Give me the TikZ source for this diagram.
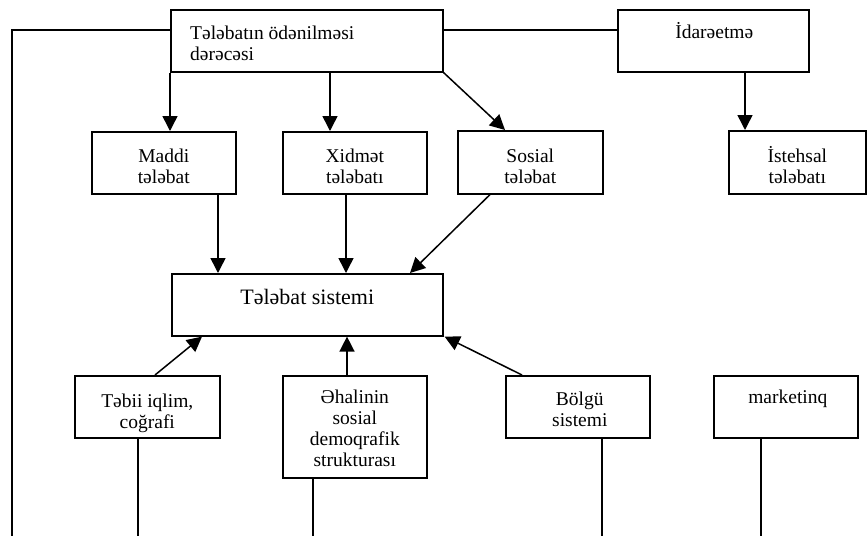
\documentclass[tikz,border=0pt]{standalone}
\usepackage{fontspec}
\setmainfont{Liberation Serif}
\usetikzlibrary{arrows.meta,calc}
\newcommand{\ctext}[1]{\begin{tabular}[t]{@{}c@{}}#1\end{tabular}}
\newcommand{\ltext}[1]{\begin{tabular}[t]{@{}l@{}}#1\end{tabular}}
\begin{document}
\begin{tikzpicture}[x=1pt,y=-1pt,
  box/.style={draw,line width=1.6pt,rectangle,inner sep=0pt,anchor=north west},
  lbl/.style={anchor=base,inner sep=0pt,font=\fontsize{19.5}{21}\selectfont},
  biglbl/.style={anchor=base,inner sep=0pt,font=\fontsize{22}{24}\selectfont},
  arr/.style={line width=1.5pt,-{Triangle[length=15pt,width=15pt]}},
  ln/.style={line width=1.6pt},
  thinln/.style={line width=1.1pt}]
\useasboundingbox (0,0) rectangle (868,536);
\coordinate (bot) at (0,536);
% boxes
\node[box,minimum width=272pt,minimum height=62pt] (top) at (170,9) {};
\node[box,minimum width=191pt,minimum height=62pt] (idare) at (617,9) {};
\node[box,minimum width=144pt,minimum height=62pt] (maddi) at (91,131) {};
\node[box,minimum width=144pt,minimum height=62pt] (xidmet) at (282,131) {};
\node[box,minimum width=145pt,minimum height=63pt] (sosial) at (457,130) {};
\node[box,minimum width=137pt,minimum height=63pt] (istehsal) at (728,130) {};
\node[box,minimum width=271pt,minimum height=62pt] (tsys) at (171,273) {};
\node[box,minimum width=145pt,minimum height=62pt] (tebii) at (74,375) {};
\node[box,minimum width=144pt,minimum height=102pt] (ehali) at (282,375) {};
\node[box,minimum width=144pt,minimum height=62pt] (bolgu) at (505,375) {};
\node[box,minimum width=144pt,minimum height=62pt] (market) at (713,375) {};
% texts
\node[lbl,anchor=base west] (top-t) at ($(top.north west)+(20,30)$) {\ltext{Tələbatın ödənilməsi\\dərəcəsi}};
\node[lbl] (idare-t) at ($(idare.north)+(1,29)$) {\ctext{İdarəetmə}};
\node[lbl] (maddi-t) at ($(maddi.north)+(0,31)$) {\ctext{Maddi\\tələbat}};
\node[lbl] (xidmet-t) at ($(xidmet.north)+(0,31)$) {\ctext{Xidmət\\tələbatı}};
\node[lbl] (sosial-t) at ($(sosial.north)+(0,32)$) {\ctext{Sosial\\tələbat}};
\node[lbl] (istehsal-t) at ($(istehsal.north)+(0,32)$) {\ctext{İstehsal\\tələbatı}};
\node[biglbl] (tsys-t) at ($(tsys.north)+(0,31)$) {Tələbat sistemi};
\node[lbl] (tebii-t) at ($(tebii.north)+(0,32)$) {\ctext{Təbii iqlim,\\coğrafi}};
\node[lbl] (ehali-t) at ($(ehali.north)+(0,28)$) {\ctext{Əhalinin\\sosial\\demoqrafik\\strukturası}};
\node[lbl] (bolgu-t) at ($(bolgu.north)+(2,30)$) {\ctext{Bölgü\\sistemi}};
\node[lbl] (market-t) at ($(market.north)+(2,28)$) {\ctext{marketinq}};
% left frame line and top connector
\coordinate (lc) at (12,30);
\coordinate (lb) at (12,536);
\draw[ln] ($(top.north west)+(0,21)$) -- (lc) -- (lb);
\draw[thinln] ($(top.north east)+(0,21)$) coordinate (p) -- (p -| idare.west);
% arrows from top
\draw[arr] (top.south west) -- (top.south west |- maddi.north);
\draw[arr] ($(top.south west)+(160,0)$) coordinate (a) -- (a |- xidmet.north);
\draw[arr] (top.south east) -- ($(sosial.north west)+(48,0)$);
\draw[arr] ($(idare.south west)+(128,0)$) coordinate (b) -- (b |- istehsal.north);
% arrows into system
\draw[arr] ($(maddi.south west)+(127,0)$) coordinate (c) -- (c |- tsys.north);
\draw[arr] ($(xidmet.south west)+(64,0)$) coordinate (d) -- (d |- tsys.north);
\draw[arr] ($(sosial.south west)+(33,0)$) -- ($(tsys.north west)+(239,0)$);
\draw[arr] ($(tebii.north west)+(81,0)$) -- ($(tsys.south west)+(31,0)$);
\draw[arr] ($(ehali.north west)+(65,0)$) coordinate (e) -- (e |- tsys.south);
\draw[arr] ($(bolgu.north west)+(17,0)$) -- ($(tsys.south east)+(1,0)$);
% lines down
\draw[ln] ($(tebii.south west)+(64,0)$) coordinate (f) -- (f |- bot);
\draw[ln] ($(ehali.south west)+(31,0)$) coordinate (g) -- (g |- bot);
\draw[ln] ($(bolgu.south west)+(97,0)$) coordinate (h) -- (h |- bot);
\draw[ln] ($(market.south west)+(48,0)$) coordinate (k) -- (k |- bot);
\end{tikzpicture}
\end{document}
